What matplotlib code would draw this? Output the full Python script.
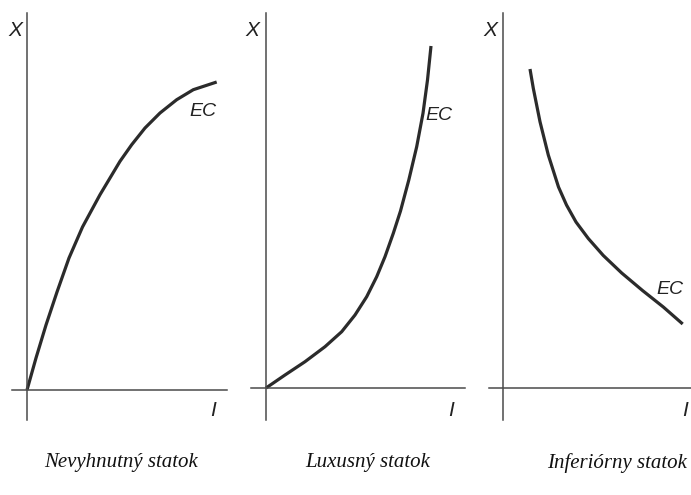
import matplotlib
matplotlib.use("Agg")
import matplotlib.pyplot as plt

# ---- data (arbitrary units: income I on x, quantity X on y) ----
titles = ["Nevyhnutný statok", "Luxusný statok", "Inferiórny statok"]
curve_label = "EC"
x_label = "I"
y_label = "X"

nec_income = [0, 9, 19, 30, 42, 55.5, 64.7, 73, 83, 93, 104.7, 118, 133,
              149.7, 166.3, 189.7]
nec_qty = [0, 32, 65, 98, 132, 163, 180, 195.3, 212, 228.7, 245.3, 262, 277,
           290.3, 300.3, 308]

lux_income = [0, 19, 39, 59, 75.7, 89, 100.7, 110.7, 119, 127.3, 134.5, 142.8,
              150.7, 157, 161.5, 165]
lux_qty = [0, 13, 26.3, 41.3, 56.3, 73, 91.3, 111.3, 131.3, 154.7, 177, 208,
           241.3, 274.7, 308, 342]

inf_income = [27, 30.3, 37, 45.3, 55.5, 63.5, 73, 85.3, 100.3, 118.7, 139.5,
              160.3, 179.7]
inf_qty = [319, 299.7, 266.3, 233, 201, 183, 166, 149.5, 132.5, 115, 97.5,
           81, 64]

W, H = 691, 495
fig = plt.figure(figsize=(W / 100, H / 100), dpi=100)
fig.patch.set_facecolor("white")

# panel layout in pixels: (col_left, col_right, origin_x, origin_y)
panels = [
    dict(c0=0, c1=240, ox=27, oy=390, xs=nec_income, ys=nec_qty,
         yb=(-30, 377), xb=(-15, 200), ylab=(-12, 360), xlab=(186, -21),
         ec=(176, 278), cap=(94, -73)),
    dict(c0=240, c1=480, ox=266, oy=388, xs=lux_income, ys=lux_qty,
         yb=(-32, 375), xb=(-15, 199), ylab=(-14, 358), xlab=(185, -23),
         ec=(173, 273), cap=(102, -75)),
    dict(c0=480, c1=691, ox=503, oy=388, xs=inf_income, ys=inf_qty,
         yb=(-32, 375), xb=(-14, 200), ylab=(-13, 358), xlab=(182, -23),
         ec=(167, 98), cap=(114, -75)),
]

line_col = "#2b2b2b"
axis_col = "#4a4a4a"

for i, p in enumerate(panels):
    ax = fig.add_axes([p["c0"] / W, 0, (p["c1"] - p["c0"]) / W, 1])
    ax.set_facecolor("none")
    ax.set_xlim(p["c0"] - p["ox"], p["c1"] - p["ox"])
    ax.set_ylim(-(H - p["oy"]), p["oy"])
    for s in ["top", "right"]:
        ax.spines[s].set_visible(False)
    ax.spines["left"].set_position(("data", 0))
    ax.spines["bottom"].set_position(("data", 0))
    ax.spines["left"].set_bounds(*p["yb"])
    ax.spines["bottom"].set_bounds(*p["xb"])
    for s in ["left", "bottom"]:
        ax.spines[s].set_color(axis_col)
        ax.spines[s].set_linewidth(1.1)
    ax.set_xticks([])
    ax.set_yticks([])

    ax.plot(p["xs"], p["ys"], color=line_col, lw=2.3, solid_capstyle="butt",
            solid_joinstyle="round")

    ax.text(*p["ylab"], y_label, family="Liberation Sans", style="italic",
            fontsize=15, ha="center", va="center", color="#222")
    ax.text(*p["xlab"], x_label, family="Liberation Sans", style="italic",
            fontsize=15, ha="center", va="center", color="#222")
    ax.text(*p["ec"], curve_label, family="Liberation Sans", style="italic",
            fontsize=14, ha="center", va="center", color="#222")
    ax.text(*p["cap"], titles[i], family="Liberation Serif", style="italic",
            fontsize=15, ha="center", va="center", color="#111",
            clip_on=False)

fig.savefig("out.png", dpi=100, facecolor="white")
